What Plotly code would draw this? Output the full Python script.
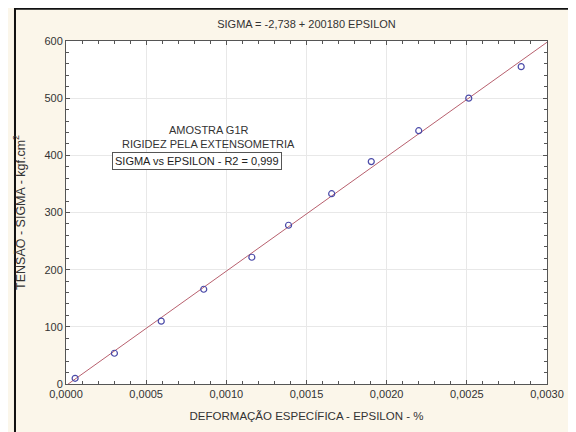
import plotly.graph_objects as go

# Data
epsilon = [0.0000569, 0.000302, 0.000594, 0.000859, 0.001159, 0.001388,
           0.001657, 0.001904, 0.002200, 0.002512, 0.002839]
sigma = [10.0, 53.8, 109.9, 165.7, 221.7, 277.7, 332.9, 389.0, 443.1, 500.0, 555.1]

# Fitted line coefficients (from chart title)
intercept = -2.738
slope = 200180
line_x = [0.0, 0.003]
line_y = [intercept + slope * v for v in line_x]

x_ticks = [0.0, 0.0005, 0.0010, 0.0015, 0.0020, 0.0025, 0.0030]
x_tick_labels = ["0,0000", "0,0005", "0,0010", "0,0015", "0,0020", "0,0025", "0,0030"]
y_ticks = [0, 100, 200, 300, 400, 500, 600]

FONT = "Liberation Sans, Arial, sans-serif"

fig = go.Figure()
fig.add_trace(go.Scatter(x=line_x, y=line_y, mode="lines",
                         line=dict(color="#b8606e", width=1), showlegend=False))
fig.add_trace(go.Scatter(x=epsilon, y=sigma, mode="markers",
                         marker=dict(symbol="circle-open", size=6,
                                     color="#4a4aa8", line=dict(width=1.2)),
                         showlegend=False))

axis_common = dict(showline=True, linecolor="#555555", linewidth=1, mirror="allticks",
                   ticks="inside", ticklen=4, tickcolor="#555555",
                   showgrid=True, gridcolor="#e8e8e8", gridwidth=1, zeroline=False,
                   tickfont=dict(family=FONT, size=11, color="#333333"))

fig.update_xaxes(range=[0, 0.003], tickvals=x_ticks, ticktext=x_tick_labels,
                 minor=dict(dtick=0.0001, ticks="inside", ticklen=3, tickcolor="#555555", showgrid=False),
                 title=dict(text="DEFORMAÇÃO ESPECÍFICA - EPSILON - %",
                            font=dict(family=FONT, size=11.5, color="#333333"), standoff=12),
                 **axis_common)
fig.update_yaxes(range=[0, 600], tickvals=y_ticks,
                 minor=dict(dtick=20, ticks="inside", ticklen=3, tickcolor="#555555", showgrid=False),
                 title=dict(text="TENSÃO - SIGMA - kgf.cm<sup>2</sup>",
                            font=dict(family=FONT, size=12.5, color="#333333"), standoff=16),
                 **axis_common)

fig.add_annotation(x=0.00089, y=445, xref="x", yref="y", text="AMOSTRA G1R",
                   showarrow=False, font=dict(family=FONT, size=11, color="#333333"))
fig.add_annotation(x=0.00089, y=419, xref="x", yref="y", text="RIGIDEZ PELA EXTENSOMETRIA",
                   showarrow=False, font=dict(family=FONT, size=11, color="#333333"))
fig.add_annotation(x=0.00082, y=390, xref="x", yref="y", text="SIGMA vs EPSILON - R2 = 0,999",
                   showarrow=False, font=dict(family=FONT, size=11, color="#222222"),
                   bordercolor="#555555", borderwidth=1, borderpad=2, bgcolor="white")

# figure sits at an 8px page offset; size it to fit the window exactly
W, H = 568, 424
L, R, T, B = 54, 19, 33, 45
pw = W - L - R
ph = H - T - B
fig.add_shape(type="rect", xref="paper", yref="paper",
              x0=(1.5 - L) / pw, x1=1.3, y0=-0.4, y1=(ph + T - 0.5) / ph,
              line=dict(color="#111111", width=2), fillcolor="rgba(0,0,0,0)", layer="below")

fig.update_layout(
    width=W, height=H,
    margin=dict(l=L, r=R, t=T, b=B),
    paper_bgcolor="#fbf6ea", plot_bgcolor="white",
    title=dict(text="SIGMA = -2,738 + 200180 EPSILON", x=0.5, xref="paper", xanchor="center",
               y=1 - 16 / H, yanchor="middle", yref="container",
               font=dict(family=FONT, size=11, color="#333333")),
)

fig.write_html("out.html")
